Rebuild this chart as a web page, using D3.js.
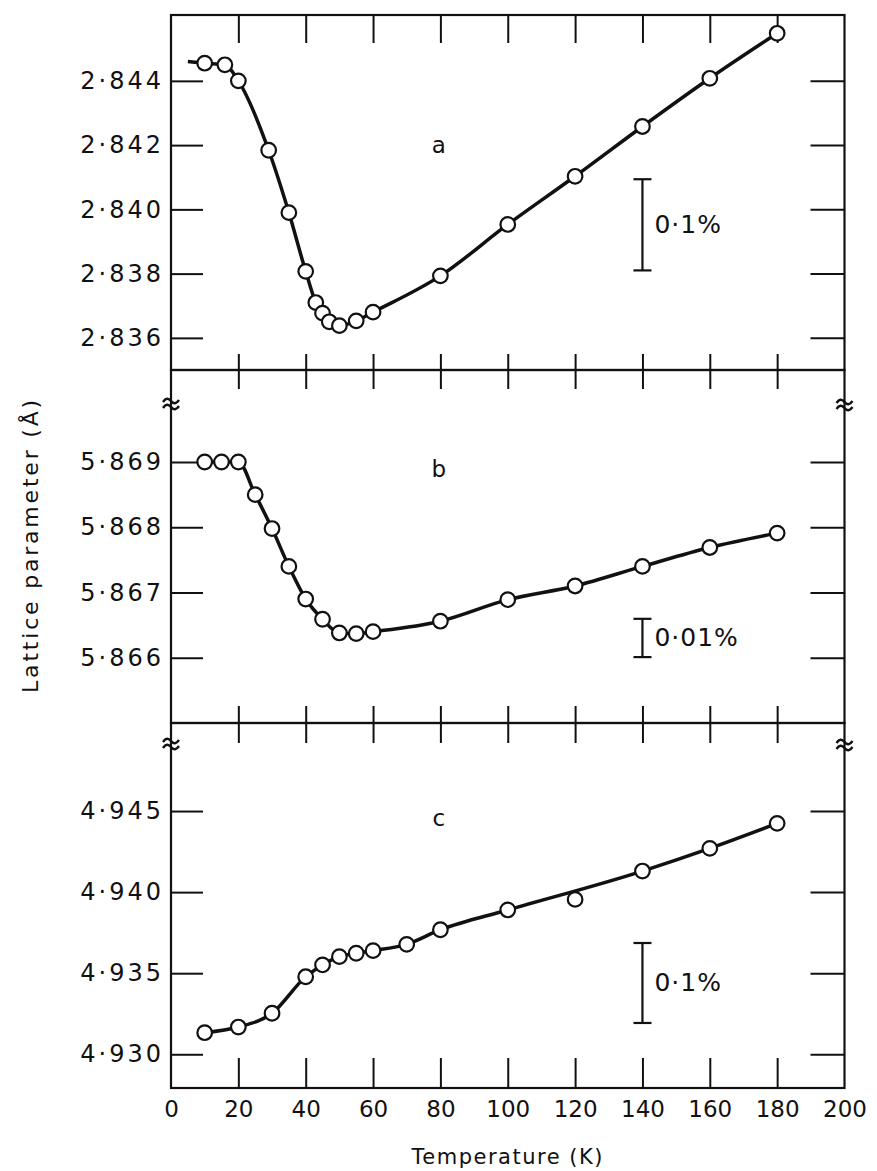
<!DOCTYPE html>
<html>
<head>
<meta charset="utf-8">
<script src="https://cdn.jsdelivr.net/npm/d3@7/dist/d3.min.js"></script>
<style>
  html, body { margin: 0; padding: 0; background: #fff; }
  svg { display: block; }
  text { font-family: "DejaVu Sans", "Liberation Sans", sans-serif; fill: #111; }
</style>
</head>
<body>
<svg id="chart" width="877" height="1171"></svg>
<script>
// ---- Temperature axis (K) ----
const tempTicks = [0, 20, 40, 60, 80, 100, 120, 140, 160, 180, 200];

// ---- a-axis lattice parameter (Å) ----
const tempsA  = [10, 16, 20, 29, 35, 40, 43, 45, 47, 50, 55, 60, 80, 100, 120, 140, 160, 180];
const valuesA = [2.84455, 2.8445, 2.8440, 2.84184, 2.8399, 2.83807, 2.8371, 2.83677, 2.8365,
                 2.83638, 2.83653, 2.8368, 2.83793, 2.83953, 2.84103, 2.84258, 2.84408, 2.84548];
const leadA   = { t: 5, v: 2.8446 };          // curve continues below the first measurement
const ticksA  = [2.836, 2.838, 2.840, 2.842, 2.844];

// ---- b-axis lattice parameter (Å) ----
const tempsB  = [10, 15, 20, 25, 30, 35, 40, 45, 50, 55, 60, 80, 100, 120, 140, 160, 180];
const valuesB = [5.8690, 5.8690, 5.8690, 5.8685, 5.86798, 5.8674, 5.8669, 5.86659, 5.86638,
                 5.86637, 5.8664, 5.86656, 5.86689, 5.8671, 5.8674, 5.86769, 5.86791];
const ticksB  = [5.866, 5.867, 5.868, 5.869];

// ---- c-axis lattice parameter (Å) ----
const tempsC  = [10, 20, 30, 40, 45, 50, 55, 60, 70, 80, 100, 120, 140, 160, 180];
const valuesC = [4.93133, 4.93168, 4.93253, 4.93478, 4.93551, 4.93602, 4.93623, 4.93639,
                 4.93678, 4.93768, 4.9389, 4.93955, 4.9413, 4.9427, 4.94424];
const offCurveC = [120];                      // point lying off the drawn line
const ticksC  = [4.930, 4.935, 4.940, 4.945];

// ---- relative-change scale bars: base value, size in percent, temperature position ----
const barBase    = [2.8381, 5.86601, 4.93193];
const barPercent = [0.1, 0.01, 0.1];
const barLabels  = ["0·1%", "0·01%", "0·1%"];
const barTemp    = 140;

// ---- panel letters ----
const panelNames  = ["a", "b", "c"];
const panelLabelV = [2.8420, 5.8689, 4.9446];
const panelLabelT = 79.5;

const svg = d3.select("#chart");
const ink = "#111";

const x = d3.scaleLinear().domain([0, 200]).range([171, 844.5]);
const X0 = x.range()[0], X1 = x.range()[1];

const panels = [
  { name: panelNames[0], top: 15,  bottom: 370,  domain: [2.835, 2.84605],
    temps: tempsA, values: valuesA, ticks: ticksA, lead: leadA, off: [],
    tickTop: 28, tickBottom: 16 },
  { name: panelNames[1], top: 370, bottom: 723,  domain: [5.865, 5.87041],
    temps: tempsB, values: valuesB, ticks: ticksB, lead: null, off: [],
    tickTop: 19, tickBottom: 17 },
  { name: panelNames[2], top: 723, bottom: 1088, domain: [4.92792, 4.95043],
    temps: tempsC, values: valuesC, ticks: ticksC, lead: null, off: offCurveC,
    tickTop: 20, tickBottom: 30 }
];

const fmt = d => d.toFixed(3).replace(".", "·");
const innerT = tempTicks.filter(t => t > 0 && t < 200);

function cleanAxis(g, width) {
  g.select(".domain").remove();
  g.selectAll(".tick line").attr("stroke", ink).attr("stroke-width", width);
}

panels.forEach((p, i) => {
  const y = d3.scaleLinear().domain(p.domain).range([p.bottom, p.top]);
  const g = svg.append("g");

  // frame
  g.append("rect")
    .attr("x", X0).attr("y", p.top)
    .attr("width", X1 - X0).attr("height", p.bottom - p.top)
    .attr("fill", "none").attr("stroke", ink).attr("stroke-width", 2.2);

  // inward temperature ticks, top and bottom edges
  g.append("g").attr("transform", `translate(0,${p.top})`)
    .call(d3.axisBottom(x).tickValues(innerT).tickSize(p.tickTop).tickFormat(""))
    .call(a => cleanAxis(a, 2));
  g.append("g").attr("transform", `translate(0,${p.bottom})`)
    .call(d3.axisTop(x).tickValues(innerT).tickSize(p.tickBottom).tickFormat(""))
    .call(a => cleanAxis(a, 2));

  // inward value ticks, left and right edges
  g.append("g").attr("transform", `translate(${X0},0)`)
    .call(d3.axisRight(y).tickValues(p.ticks).tickSize(32).tickFormat(""))
    .call(a => cleanAxis(a, 2));
  g.append("g").attr("transform", `translate(${X1},0)`)
    .call(d3.axisLeft(y).tickValues(p.ticks).tickSize(34).tickFormat(""))
    .call(a => cleanAxis(a, 2));

  // value labels
  g.append("g").attr("transform", `translate(${X0},0)`)
    .call(d3.axisLeft(y).tickValues(p.ticks).tickSize(0).tickPadding(7).tickFormat(fmt))
    .call(a => {
      a.select(".domain").remove();
      a.selectAll("text")
        .attr("font-family", '"DejaVu Sans", sans-serif')
        .attr("font-size", 24)
        .style("letter-spacing", "3px")
        .attr("fill", ink);
    });

  // data curve
  const pts = p.temps.map((t, k) => ({ t, v: p.values[k] }));
  const curvePts = (p.lead ? [p.lead] : []).concat(pts.filter(d => !p.off.includes(d.t)));
  const line = d3.line().x(d => x(d.t)).y(d => y(d.v)).curve(d3.curveMonotoneX);
  g.append("path").datum(curvePts)
    .attr("d", line)
    .attr("fill", "none").attr("stroke", ink)
    .attr("stroke-width", 3.5).attr("stroke-linejoin", "round");

  // measured points
  g.selectAll("circle").data(pts).join("circle")
    .attr("cx", d => x(d.t)).attr("cy", d => y(d.v)).attr("r", 7.3)
    .attr("fill", "#fff").attr("stroke", ink).attr("stroke-width", 2.2);

  // panel letter
  g.append("text")
    .attr("x", x(panelLabelT)).attr("y", y(panelLabelV[i]))
    .attr("text-anchor", "middle").attr("dominant-baseline", "central")
    .attr("font-size", 23).text(p.name);

  // scale bar
  const b0 = barBase[i], b1 = b0 * (1 + barPercent[i] / 100);
  const bx = x(barTemp);
  const bar = g.append("g").attr("stroke", ink).attr("stroke-width", 2.2);
  bar.append("line").attr("x1", bx).attr("x2", bx).attr("y1", y(b0)).attr("y2", y(b1));
  [b0, b1].forEach(v => bar.append("line")
    .attr("x1", bx - 9).attr("x2", bx + 9).attr("y1", y(v)).attr("y2", y(v)));
  g.append("text")
    .attr("x", bx + 12).attr("y", (y(b0) + y(b1)) / 2)
    .attr("dominant-baseline", "central")
    .attr("font-size", 25).style("letter-spacing", "1px")
    .text(barLabels[i]);
});

// axis-break marks on the left and right edges
const breaks = [{ y: 404 }, { y: 744 }];
function tilde(g, cx, cy) {
  [-3, 3].forEach(dy => g.append("path")
    .attr("d", `M${cx - 8},${cy + dy + 1} q4,-6 8,-1 t8,-1`)
    .attr("fill", "none").attr("stroke", ink).attr("stroke-width", 2.4));
}
breaks.forEach(b => { tilde(svg, X0, b.y); tilde(svg, X1, b.y + 1); });

// temperature labels along the bottom
const last = panels[panels.length - 1];
svg.append("g").attr("transform", `translate(0,${last.bottom})`)
  .call(d3.axisBottom(x).tickValues(tempTicks).tickSize(0).tickPadding(13).tickFormat(d3.format("d")))
  .call(a => {
    a.select(".domain").remove();
    a.selectAll("text")
      .attr("font-family", '"DejaVu Sans", sans-serif')
      .attr("font-size", 23).attr("fill", ink);
  });

// axis titles
svg.append("text")
  .attr("x", (X0 + X1) / 2).attr("y", 1157)
  .attr("text-anchor", "middle").attr("dominant-baseline", "central")
  .attr("font-size", 21).style("letter-spacing", "1.5px")
  .text("Temperature (K)");

svg.append("text")
  .attr("transform", "translate(30,545) rotate(-90)")
  .attr("text-anchor", "middle").attr("dominant-baseline", "central")
  .attr("font-size", 22).style("letter-spacing", "2.8px")
  .text("Lattice parameter (Å)");
</script>
</body>
</html>
